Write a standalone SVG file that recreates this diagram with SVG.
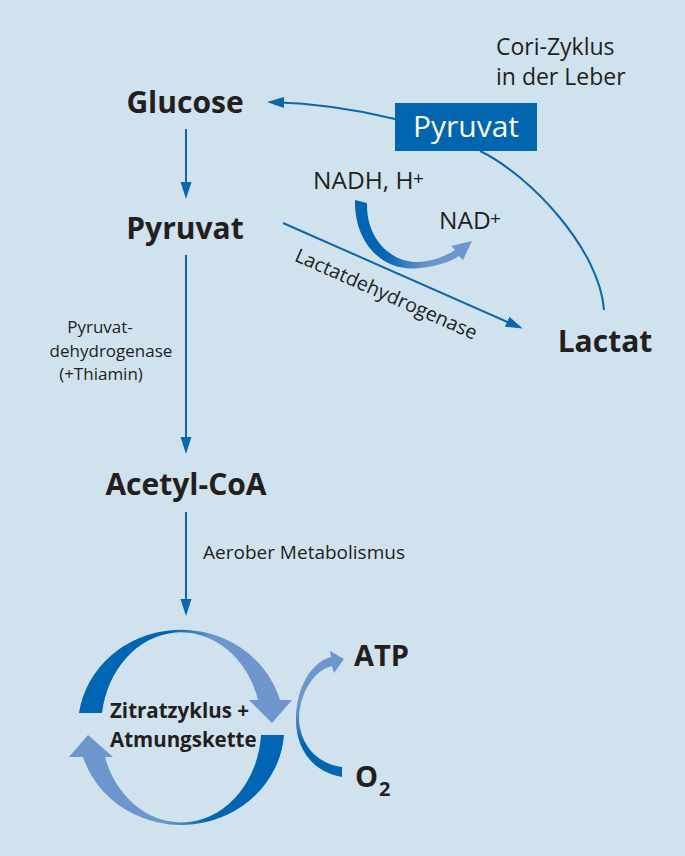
<svg xmlns="http://www.w3.org/2000/svg" width="685" height="856" viewBox="0 0 685 856">
<style>
text{font-family:"Open Sans","Liberation Sans",sans-serif;fill:#231f20}
.b{font-weight:700;font-size:30px;text-anchor:middle}
.r{font-size:17px}
.m{font-size:24px}
.c{stroke:#0a67b0;stroke-width:2;fill:none}
</style>
<defs>
<marker id="ah" markerUnits="userSpaceOnUse" markerWidth="18" markerHeight="12" refX="13" refY="5.5" orient="auto">
<path d="M0,0 L17,5.5 L0,11 Z" fill="#0a67b0"/>
</marker>
<linearGradient id="gUp" gradientUnits="userSpaceOnUse" x1="170" y1="0" x2="214" y2="0">
<stop offset="0" stop-color="#0066b3"/><stop offset="1" stop-color="#6e96cc"/>
</linearGradient>
<linearGradient id="gLo" gradientUnits="userSpaceOnUse" x1="165" y1="0" x2="208" y2="0">
<stop offset="0" stop-color="#6e96cc"/><stop offset="1" stop-color="#0066b3"/>
</linearGradient>
<linearGradient id="gAtp" gradientUnits="userSpaceOnUse" x1="0" y1="745" x2="0" y2="705">
<stop offset="0" stop-color="#0066b3"/><stop offset="1" stop-color="#6e96cc"/>
</linearGradient>
<linearGradient id="gNad" gradientUnits="userSpaceOnUse" x1="385" y1="0" x2="428" y2="0">
<stop offset="0" stop-color="#0066b3"/><stop offset="1" stop-color="#6e96cc"/>
</linearGradient>
</defs>
<rect width="685" height="856" fill="#d0e2ee"/>

<g id="connectors">
<line class="c" x1="186" y1="129" x2="186" y2="195" marker-end="url(#ah)"/>
<line class="c" x1="186" y1="255" x2="186" y2="450" marker-end="url(#ah)"/>
<line class="c" x1="186" y1="512" x2="186" y2="612" marker-end="url(#ah)"/>
<line class="c" x1="283" y1="223" x2="519" y2="327" marker-end="url(#ah)"/>
<path class="c" d="M395,119 Q335,104 271,102" marker-end="url(#ah)"/>
<path class="c" d="M480,151 C530,175 600,250 604,310"/>
<path id="nadArrow" fill="url(#gNad)" d="M355,200 C354,245 385,273 420,268 C437,266 450,262 459,256 L463,260 L472,241 L451,246 L455,250 C446,256 433,261 419,262 C390,263 366,238 367,203 Z"/>
<path id="atpArrow" fill="url(#gAtp)" d="M342,777 C312,772 295,748 296,717 C297,688 310,663 331,657 L330,651 L344,659 L334,673 L332,666 C315,670 301,690 299,717 C299,744 317,764 342,767 Z"/>
</g>

<g id="cori-label">
<text class="m" x="496" y="55" style="font-size:23px">Cori-Zyklus</text>
<text class="m" x="496" y="85" style="font-size:23px">in der Leber</text>
</g>

<g id="glucose"><text class="b" x="185" y="113">Glucose</text></g>
<g id="pyruvat"><text class="b" x="185" y="239">Pyruvat</text></g>
<g id="acetylcoa"><text class="b" x="186" y="495">Acetyl-CoA</text></g>
<g id="lactat"><text class="b" x="605" y="352">Lactat</text></g>

<g id="pyruvat-leber">
<rect x="395" y="103" width="142" height="48" fill="#0066b0"/>
<text x="466" y="137" style="fill:#ffffff;font-size:30px;text-anchor:middle">Pyruvat</text>
</g>

<g id="nadh">
<text class="m" x="313" y="189" style="font-size:24.5px">NADH, H</text>
<text x="413" y="185" style="font-size:19px">+</text>
</g>
<g id="nad">
<text class="m" x="439" y="229" style="font-size:24.5px">NAD</text>
<text x="490" y="225" style="font-size:19px">+</text>
</g>

<g id="ldh-label">
<text x="0" y="0" transform="translate(293.5,260.4) rotate(23.8)" style="font-size:19.6px">Lactatdehydrogenase</text>
</g>

<g id="pdh-label" class="r">
<text x="100" y="333" style="font-size:17px;text-anchor:middle">Pyruvat-</text>
<text x="111" y="357" style="font-size:17px;text-anchor:middle">dehydrogenase</text>
<text x="101" y="380" style="font-size:17px;text-anchor:middle">(+Thiamin)</text>
</g>

<g id="aerob-label"><text x="203" y="559" style="font-size:19px">Aerober Metabolismus</text></g>

<g id="cycle">
<path fill="url(#gUp)" d="M79,713 A103,97 0 0 1 280,700 L292,700 L272,723 L249,700 L258,700 A80,94 0 0 0 102,713 Z"/>
<path fill="url(#gLo)" d="M284,735 A103,97 0 0 1 83,757 L69,757 L88,735 L113,757 L105,757 A80,94 0 0 0 261,735 Z"/>
<text x="110" y="718" style="font-weight:700;font-size:20.5px">Zitratzyklus +</text>
<text x="110" y="747" style="font-weight:700;font-size:20.5px">Atmungskette</text>
</g>

<g id="atp"><text x="354" y="666" style="font-weight:700;font-size:29px">ATP</text></g>
<g id="o2"><text x="355" y="787" style="font-weight:700;font-size:29px">O</text><text x="379" y="796" style="font-weight:700;font-size:20px">2</text></g>
</svg>
